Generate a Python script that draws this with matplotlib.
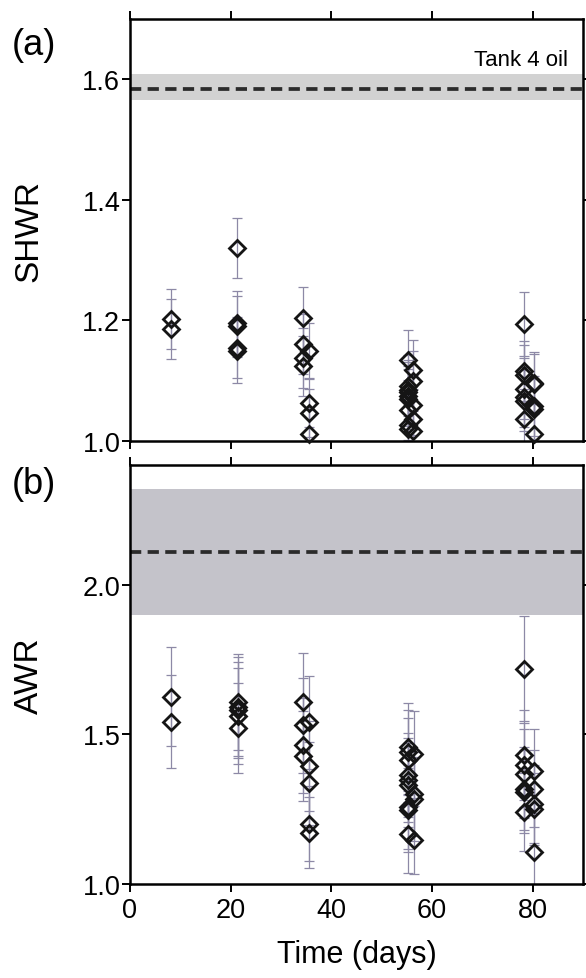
import matplotlib
matplotlib.use('Agg')
import matplotlib.pyplot as plt

# SHWR values, panel (a)
shwr_days = [8.1, 8.1,
             21.2, 21.2, 21.2, 21.2, 21.2,
             34.4, 34.4, 34.4, 34.4,
             35.6, 35.6, 35.6, 35.6,
             55.3, 55.3, 55.3, 55.3, 55.3, 55.3, 55.3, 55.3, 55.3,
             56.3, 56.3, 56.3, 56.3, 56.3,
             78.2, 78.2, 78.2, 78.2, 78.2, 78.2, 78.2,
             80.2, 80.2, 80.2, 80.2, 80.2]
shwr_vals = [1.202, 1.186,
             1.32, 1.195, 1.19, 1.155, 1.15,
             1.204, 1.161, 1.138, 1.124,
             1.150, 1.063, 1.046, 1.012,
             1.134, 1.092, 1.085, 1.081, 1.075, 1.070, 1.051, 1.026, 1.020,
             1.117, 1.100, 1.060, 1.037, 1.017,
             1.194, 1.116, 1.110, 1.087, 1.073, 1.067, 1.037,
             1.097, 1.094, 1.058, 1.053, 1.012]
shwr_errs = [0.05, 0.05,
             0.05, 0.053, 0.05, 0.05, 0.053,
             0.052, 0.05, 0.05, 0.05,
             0.045, 0.04, 0.04, 0.04,
             0.05, 0.05, 0.05, 0.05, 0.05, 0.05, 0.05, 0.05, 0.05,
             0.05, 0.05, 0.05, 0.05, 0.05,
             0.053, 0.05, 0.05, 0.05, 0.05, 0.05, 0.05,
             0.05, 0.05, 0.05, 0.05, 0.05]

# AWR values, panel (b)
awr_days = [8.1, 8.1,
            21.4, 21.4, 21.4, 21.4, 21.4,
            34.4, 34.4, 34.4, 34.4,
            35.6, 35.6, 35.6, 35.6, 35.6,
            55.3, 55.3, 55.3, 55.3, 55.3, 55.3, 55.3, 55.3, 55.3,
            56.4, 56.4, 56.4, 56.4,
            78.2, 78.2, 78.2, 78.2, 78.2, 78.2, 78.2,
            80.2, 80.2, 80.2, 80.2, 80.2]
awr_vals = [1.626, 1.542,
            1.609, 1.593, 1.581, 1.562, 1.520,
            1.607, 1.530, 1.463, 1.428,
            1.540, 1.394, 1.336, 1.202, 1.172,
            1.458, 1.442, 1.414, 1.363, 1.347, 1.330, 1.257, 1.246, 1.168,
            1.433, 1.302, 1.285, 1.148,
            1.719, 1.430, 1.397, 1.369, 1.319, 1.309, 1.241,
            1.377, 1.319, 1.268, 1.252, 1.106]
awr_errs = [0.165, 0.155,
            0.16, 0.165, 0.16, 0.16, 0.15,
            0.165, 0.16, 0.16, 0.15,
            0.155, 0.15, 0.14, 0.125, 0.12,
            0.146, 0.14, 0.14, 0.14, 0.14, 0.14, 0.14, 0.14, 0.13,
            0.145, 0.14, 0.14, 0.114,
            0.176, 0.15, 0.14, 0.15, 0.14, 0.14, 0.13,
            0.14, 0.13, 0.13, 0.12, 0.13]

# Tank 4 oil reference: line value and band limits
shwr_oil = 1.584
shwr_band = [1.565, 1.609]
awr_oil = 2.11
awr_band = [1.90, 2.32]

plt.rcParams['font.family'] = ['Liberation Sans', 'DejaVu Sans']

fig = plt.figure(figsize=(5.86, 9.79), dpi=100)
ax_a = fig.add_axes([0.2218, 0.5485, 0.7730, 0.4311])
ax_b = fig.add_axes([0.2218, 0.0960, 0.7730, 0.4280])

err_color = '#8d89a6'


def draw_panel(ax, days, vals, errs, oil, band, band_color):
    # shaded band and dashed reference line
    ax.axhspan(band[0], band[1], color=band_color, lw=0, zorder=0)
    ax.axhline(oil, color='#2b2b2b', lw=2.7, dashes=(3.0, 1.7), zorder=1)
    # error bars, then open diamonds
    ax.errorbar(days, vals, yerr=errs, fmt='none', ecolor=err_color,
                elinewidth=0.9, capsize=3.8, capthick=0.9, zorder=2)
    ax.plot(days, vals, 'D', ms=8.0, mfc='none', mec='#151515', mew=2.0,
            zorder=3, clip_on=False)
    ax.set_xlim(0, 90)
    for s in ax.spines.values():
        s.set_linewidth(1.8)
    ax.tick_params(direction='out', length=6, width=1.4, labelsize=19.5,
                   top=True, right=True, pad=1)


draw_panel(ax_a, shwr_days, shwr_vals, shwr_errs, shwr_oil, shwr_band, '#d2d2d2')
draw_panel(ax_b, awr_days, awr_vals, awr_errs, awr_oil, awr_band, '#c4c3ca')

ax_a.set_ylim(1.0, 1.7)
ax_a.set_yticks([1.0, 1.2, 1.4, 1.6])
ax_a.set_yticklabels(['1.0', '1.2', '1.4', '1.6'])
ax_a.set_xticks([0, 20, 40, 60, 80])
ax_a.set_xticklabels([])
ax_a.text(87.0, 1.632, 'Tank 4 oil', fontsize=16, ha='right', va='center')
ax_a.set_ylabel('SHWR', fontsize=24)
ax_a.yaxis.set_label_coords(-0.188, 0.5)

ax_b.set_ylim(1.0, 2.4)
ax_b.set_yticks([1.0, 1.5, 2.0])
ax_b.set_yticklabels(['1.0', '1.5', '2.0'])
ax_b.set_xticks([0, 20, 40, 60, 80])
ax_b.tick_params(axis='x', pad=3)
ax_b.set_ylabel('AWR', fontsize=24)
ax_b.yaxis.set_label_coords(-0.188, 0.5)
ax_b.set_xlabel('Time (days)', fontsize=22, labelpad=12)

fig.text(0.058, 0.954, '(a)', fontsize=26, ha='center', va='center')
fig.text(0.058, 0.505, '(b)', fontsize=26, ha='center', va='center')

fig.savefig('out.png', dpi=100)
